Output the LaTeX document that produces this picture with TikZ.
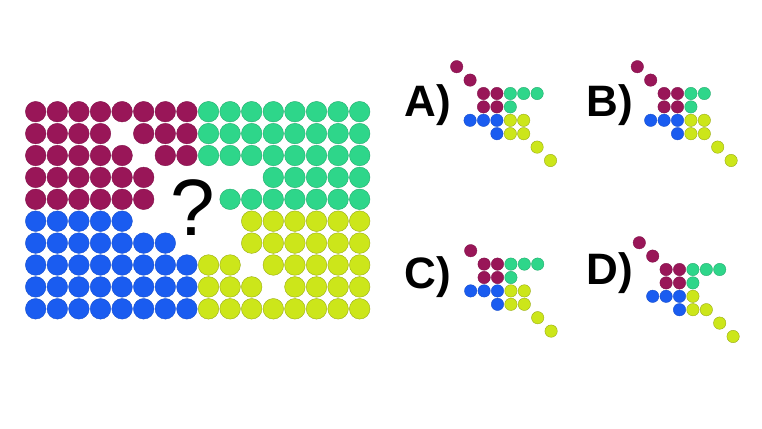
\documentclass[tikz,border=0pt]{standalone}
\usepackage{fontspec}
\usepackage{tikz}
\newfontfamily\puzzlefont{Liberation Sans}

\definecolor{dotmag}{HTML}{991658}
\definecolor{dotgrn}{HTML}{2ED68A}
\definecolor{dotblu}{HTML}{1A5CF0}
\definecolor{dotylw}{HTML}{CCE61A}

\tikzset{
	mag/.style={fill=dotmag, draw=dotmag!85!black, line width=0.4pt},
	grn/.style={fill=dotgrn, draw=dotgrn!80!black, line width=0.4pt},
	blu/.style={fill=dotblu, draw=dotblu!85!black, line width=0.4pt},
	ylw/.style={fill=dotylw, draw=dotylw!75!black, line width=0.4pt},
	optlabel/.style={font=\puzzlefont\bfseries\fontsize{44}{44}\selectfont, inner sep=0pt}
}

% one ball of the big grid: style, row, column
\newcommand{\gridball}[3]{\draw[#1] ({35.7+21.6*#3},{111.7+21.9*#2}) circle (10.3pt);}
% one small answer piece: x, y of cell (1,4), then row/col lists per colour
\newcommand{\piece}[6]{%
	\foreach \r/\c in {#3} {\draw[mag] ({#1+13.4*(\c-4)},{#2+13.4*(\r-1)}) circle (6.2pt);}
	\foreach \r/\c in {#4} {\draw[grn] ({#1+13.4*(\c-4)},{#2+13.4*(\r-1)}) circle (6.2pt);}
	\foreach \r/\c in {#5} {\draw[blu] ({#1+13.4*(\c-4)},{#2+13.4*(\r-1)}) circle (6.2pt);}
	\foreach \r/\c in {#6} {\draw[ylw] ({#1+13.4*(\c-4)},{#2+13.4*(\r-1)}) circle (6.2pt);}
}

\begin{document}
\begin{tikzpicture}[x=1pt, y=-1pt]
		\useasboundingbox (0,0) rectangle (762,428);
		% big grid
		\foreach \r/\cl in {0/{0,...,7}, 1/{0,1,2,3,5,6,7}, 2/{0,...,4,6,7}, 3/{0,...,5}, 4/{0,...,5}}
			\foreach \c in \cl {\gridball{mag}{\r}{\c}}
		\foreach \r/\cl in {0/{8,...,15}, 1/{8,...,15}, 2/{8,...,15}, 3/{11,...,15}, 4/{9,...,15}}
			\foreach \c in \cl {\gridball{grn}{\r}{\c}}
		\foreach \r/\cl in {5/{0,...,4}, 6/{0,...,6}, 7/{0,...,7}, 8/{0,...,7}, 9/{0,...,7}}
			\foreach \c in \cl {\gridball{blu}{\r}{\c}}
		\foreach \r/\cl in {5/{10,...,15}, 6/{10,...,15}, 7/{8,9,11,12,13,14,15}, 8/{8,9,10,12,13,14,15}, 9/{8,...,15}}
			\foreach \c in \cl {\gridball{ylw}{\r}{\c}}
		\node[font=\puzzlefont\fontsize{80}{80}\selectfont, inner sep=0pt] (quest) at (193,208) {?};

		% answers
		\node[optlabel] (labA) at (428,105) {A)};
		\node[optlabel] (labB) at (610,105) {B)};
		\node[optlabel] (labC) at (428,277) {C)};
		\node[optlabel] (labD) at (610,273) {D)};
		\piece{456.7}{66.7}{1/4,2/5,3/6,3/7,4/6,4/7}{3/8,3/9,3/10,4/8}{5/5,5/6,5/7,6/7}{5/8,5/9,6/8,6/9,7/10,8/11}
		\piece{637.3}{66.7}{1/4,2/5,3/6,3/7,4/6,4/7}{3/8,3/9,4/8}{5/5,5/6,5/7,6/7}{5/8,5/9,6/8,6/9,7/10,8/11}
		\piece{457.3}{237.3}{2/5,3/6,3/7,4/6,4/7}{3/8,3/9,3/10,4/8}{5/5,5/6,5/7,6/7}{5/8,5/9,6/8,6/9,7/10,8/11}
		\piece{639.3}{242.7}{1/4,2/5,3/6,3/7,4/6,4/7}{3/8,3/9,3/10,4/8}{5/5,5/6,5/7,6/7}{5/8,6/8,6/9,7/10,8/11}
	\end{tikzpicture}
\end{document}
